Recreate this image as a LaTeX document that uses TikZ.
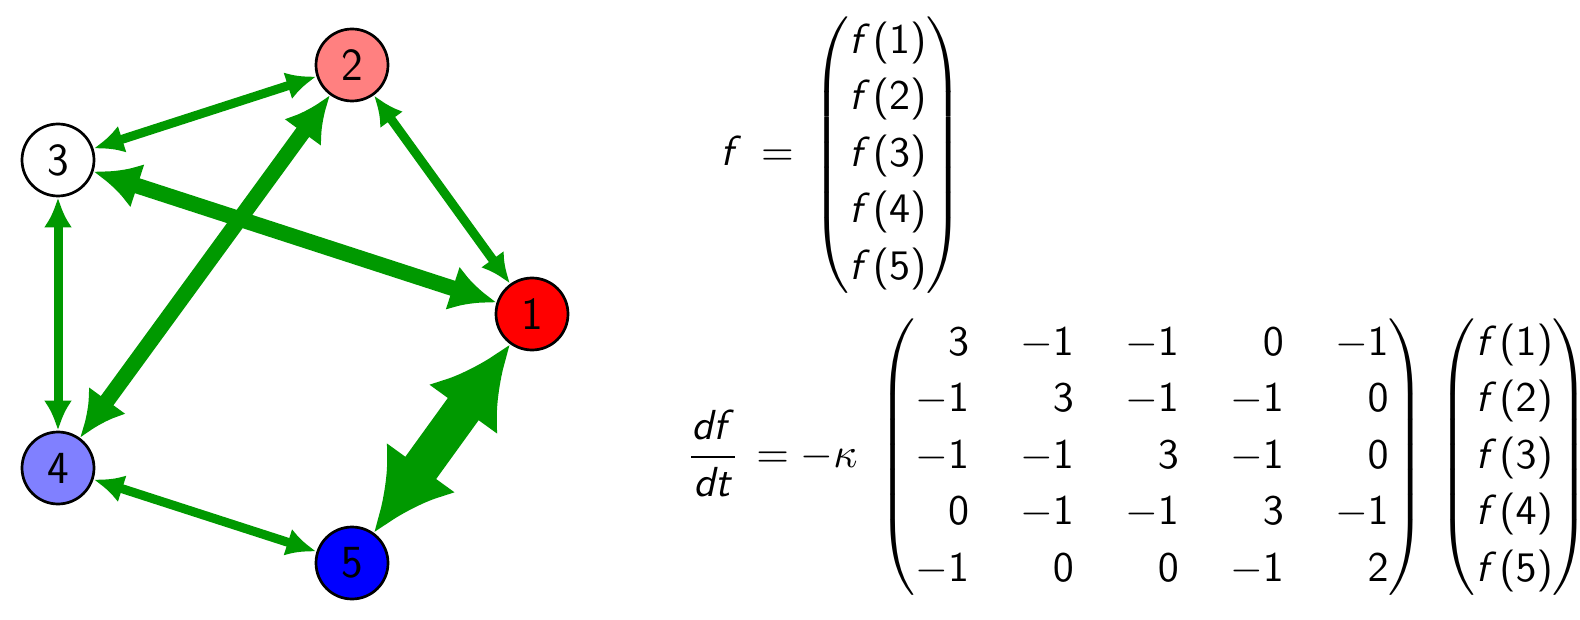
\documentclass[tikz,border=0pt]{standalone}
\usepackage{amsmath}
\usepackage{graphicx}
\usetikzlibrary{arrows.meta,backgrounds}
\DeclareSymbolFont{sfops}{OT1}{cmss}{m}{n}
\DeclareSymbolFont{sflets}{OT1}{cmss}{m}{sl}
\DeclareMathSymbol{0}{\mathalpha}{sfops}{`0}
\DeclareMathSymbol{1}{\mathalpha}{sfops}{`1}
\DeclareMathSymbol{2}{\mathalpha}{sfops}{`2}
\DeclareMathSymbol{3}{\mathalpha}{sfops}{`3}
\DeclareMathSymbol{4}{\mathalpha}{sfops}{`4}
\DeclareMathSymbol{5}{\mathalpha}{sfops}{`5}
\DeclareMathSymbol{(}{\mathopen}{sfops}{`(}
\DeclareMathSymbol{)}{\mathclose}{sfops}{`)}
\DeclareMathSymbol{=}{\mathrel}{sfops}{`=}
\DeclareMathSymbol{f}{\mathalpha}{sflets}{`f}
\DeclareMathSymbol{d}{\mathalpha}{sflets}{`d}
\DeclareMathSymbol{t}{\mathalpha}{sflets}{`t}
\newcommand{\fv}[1]{f\mkern0.8mu(#1)}
\definecolor{edgegreen}{RGB}{0,153,0}
\definecolor{lightred}{RGB}{255,128,128}
\definecolor{lightblue}{RGB}{128,128,255}
\begin{document}
\begin{tikzpicture}[x=0.5pt,y=-0.5pt,
  vert/.style={circle,draw=black,line width=1.35pt,minimum size=36pt,inner sep=0pt,
    font=\sffamily\fontsize{23}{28}\selectfont},
  thinedge/.style={draw=edgegreen,line width=4.5pt,
    {Latex[length=15pt,width=14pt]}-{Latex[length=15pt,width=14pt]}},
  midedge/.style={draw=edgegreen,line width=7.8pt,
    {Latex[length=23pt,width=23pt]}-{Latex[length=23pt,width=23pt]}},
  fatedge/.style={draw=edgegreen,line width=19pt,
    {Latex[length=40pt,width=43pt]}-{Latex[length=40pt,width=43pt]}},
  eqn/.style={inner sep=0pt,anchor=west}
]
\useasboundingbox (0,0) rectangle (1580,620);

\node[vert,fill=red]        (n1) at (532,314) {1};
\node[vert,fill=lightred]   (n2) at (352,65)  {2};
\node[vert,fill=white]      (n3) at (58,160)  {3};
\node[vert,fill=lightblue]  (n4) at (58,468)  {4};
\node[vert,fill=blue]       (n5) at (352,563) {5};

\begin{scope}[on background layer]
\fill[white] (0,0) rectangle (1580,620);
\draw[thinedge] (n1) -- (n2);
\draw[thinedge] (n2) -- (n3);
\draw[thinedge] (n3) -- (n4);
\draw[thinedge] (n4) -- (n5);
\draw[midedge]  (n1) -- (n3);
\draw[midedge]  (n2) -- (n4);
\draw[fatedge]  (n1) -- (n5);
\end{scope}

\node[eqn] (eqa) at (720,155) {\scalebox{2.1}{$\renewcommand{\arraystretch}{1.12}
  f \,=\, \left(\begin{array}{@{}c@{}} \fv1\\ \fv2\\ \fv3\\ \fv4\\ \fv5\end{array}\right)$}};

\node[eqn] (eqb) at (686,457) {\scalebox{2.1}{$\renewcommand{\arraystretch}{1.12}\setlength{\arraycolsep}{6.1pt}
  \dfrac{df}{dt}\mkern2mu = -\kappa\mkern6mu
  \left(\begin{array}{@{}rrrrr@{}}
   3 & -1 & -1 & 0 & -1\\
  -1 & 3 & -1 & -1 & 0\\
  -1 & -1 & 3 & -1 & 0\\
   0 & -1 & -1 & 3 & -1\\
  -1 & 0 & 0 & -1 & 2
  \end{array}\right)\hspace{1.5pt}
  \left(\begin{array}{@{}c@{}} \fv1\\ \fv2\\ \fv3\\ \fv4\\ \fv5\end{array}\right)$}};
\end{tikzpicture}
\end{document}
